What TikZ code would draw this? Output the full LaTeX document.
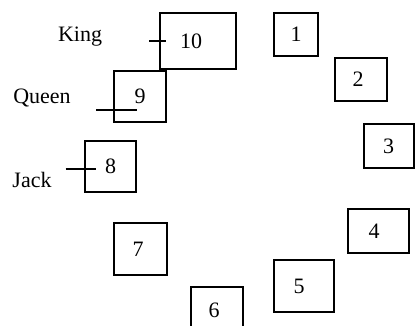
\documentclass[tikz,border=0pt]{standalone}
\usepackage{fontspec}
\setmainfont{Liberation Serif}
\begin{document}
\begin{tikzpicture}[x=1pt,y=-1pt,line width=2pt,
    card/.style={draw,inner sep=0pt,font=\fontsize{22}{24}\selectfont},
    face/.style={anchor=base,font=\fontsize{22}{24}\selectfont}]
      \useasboundingbox (0,0) rectangle (415,326);
      \draw
        (296,34.5) node[card,minimum width=44,minimum height=43] (1){1}
        (361,79.5) node[card,minimum width=52,minimum height=43] (2){2\kern6pt}
        (388.5,146) node[card,minimum width=50,minimum height=44] (3){3}
        (378.5,231) node[card,minimum width=61,minimum height=44] (4){4\kern9pt}
        (304,286) node[card,minimum width=60,minimum height=52] (5){5\kern10pt}
        (217,310) node[card,minimum width=52,minimum height=46] (6){6\kern6pt}
        (140.5,249) node[card,minimum width=53,minimum height=52] (7){7\kern5pt}
        (110.5,166.5) node[card,minimum width=51,minimum height=51] (8){8}
        (140,96.5) node[card,minimum width=52,minimum height=51] (9){9}
        (198,41) node[card,minimum width=76,minimum height=56] (10){10\kern14pt};
      \draw
        (80,42) node[face] (king){King}
        (42,104) node[face] (queen){Queen}
        (32,187) node[face] (jack){Jack};
      \begin{scope}[-]
        \draw ([xshift=-10]10.west) to ([xshift=7]10.west);
        \draw ([shift={(-17,13.5)}]9.west) to ([shift={(24,13.5)}]9.west);
        \draw ([shift={(-18.5,2.5)}]8.west) to ([shift={(11.5,2.5)}]8.west);
      \end{scope}
    \end{tikzpicture}
\end{document}
